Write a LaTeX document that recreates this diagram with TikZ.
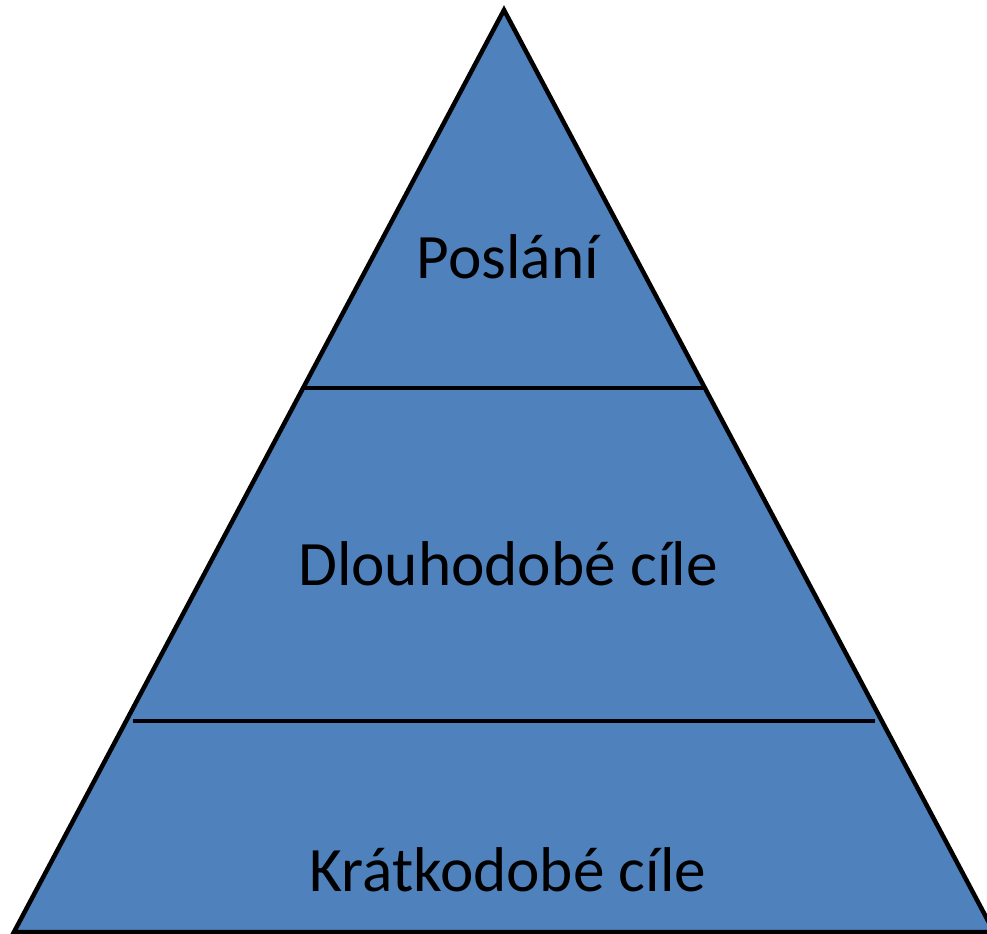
\documentclass[tikz,border=0pt]{standalone}
\usepackage{fontspec}
\setmainfont{Carlito}
\definecolor{tierblue}{HTML}{4F81BD}

\begin{document}
\begin{tikzpicture}[
  x=0.025cm, y=-0.025cm,
  outline/.style={draw=black,line width=3.2pt,line join=miter,fill=tierblue},
  divider/.style={draw=black,line width=3.2pt},
  tier/.style={font=\fontsize{45}{54}\selectfont,text=black,inner sep=0pt}
]
  \useasboundingbox (0,0) rectangle (987,934);
  \clip (0,0) rectangle (987,934);

  % pyramid
  \coordinate (apex) at (504,10);
  \coordinate (baseL) at (14,932);
  \coordinate (baseR) at (994,932);
  \draw[outline] (apex) -- (baseR) -- (baseL) -- cycle;

  % tier borders
  \coordinate (d1L) at (302,388);
  \coordinate (d1R) at (706,388);
  \coordinate (d2L) at (133,721);
  \coordinate (d2R) at (875,721);
  \draw[divider] (d1L) -- (d1R);
  \draw[divider] (d2L) -- (d2R);

  % labels
  \node[tier] (mission) at (508,257) {Poslání};
  \node[tier] (longterm) at (508,564) {Dlouhodobé cíle};
  \node[tier] (shortterm) at (508,870) {Krátkodobé cíle};
\end{tikzpicture}
\end{document}
